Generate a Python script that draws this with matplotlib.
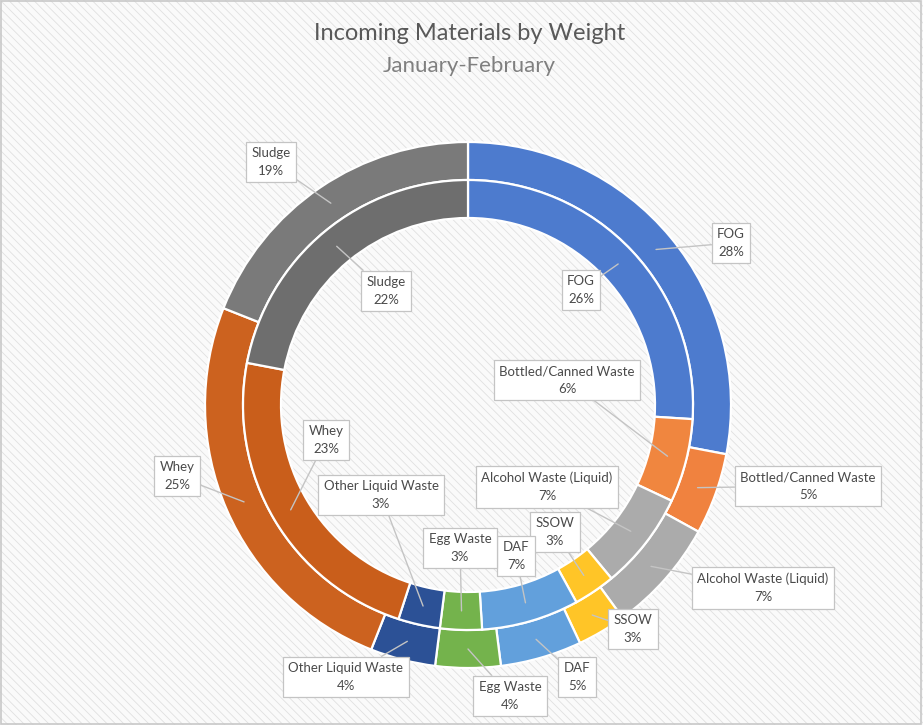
import numpy as np
import matplotlib
matplotlib.use('Agg')
import matplotlib.pyplot as plt
from matplotlib.patches import Rectangle

plt.rcParams['font.family'] = ['Lato', 'DejaVu Sans']
plt.rcParams['hatch.linewidth'] = 0.6

W, H = 923, 725

categories = ['FOG', 'Bottled/Canned Waste', 'Alcohol Waste (Liquid)', 'SSOW', 'DAF',
              'Egg Waste', 'Other Liquid Waste', 'Whey', 'Sludge']
outer_pct = [28, 5, 7, 3, 5, 4, 4, 25, 19]
inner_pct = [26, 6, 7, 3, 7, 3, 3, 23, 22]

colors_outer = ['#4D7BCE', '#F0823F', '#ABABAB', '#FFC527', '#62A0DC',
                '#74B34C', '#2C5196', '#CC621F', '#7A7A7A']
colors_inner = ['#4D7BCE', '#F0863F', '#ABABAB', '#FFC527', '#62A0DC',
                '#74B34C', '#2C5196', '#C95E1B', '#6E6E6E']

# label box centres (pixels from top-left), layout only
outer_lbl = [(731, 243), (808, 486), (763, 588), (633, 629), (577, 677),
             (510, 696), (346, 677), (177, 476), (271, 162)]
inner_lbl = [(581, 290), (567, 380), (547, 487), (555, 532), (516, 556),
             (460, 548), (381, 495), (326, 440), (386, 291)]

cx, cy = 468, H - 405
R_out, R_in, ring = 263, 225, 38

fig = plt.figure(figsize=(W / 100, H / 100), dpi=100)
fig.patch.set_facecolor('white')
fig.patches.append(Rectangle((0, 0), 1, 1, transform=fig.transFigure,
                             facecolor='#FAFAFA', edgecolor='#E0E0E0',
                             hatch='\\\\\\\\', linewidth=0, zorder=-2))
fig.patches.append(Rectangle((0.001, 0.001), 0.997, 0.997, transform=fig.transFigure,
                             facecolor='none', edgecolor='#C8C8C8', linewidth=1.2, zorder=-1))

ax = fig.add_axes([0, 0, 1, 1])
ax.set_facecolor('none')

wprops = dict(width=ring, edgecolor='white', linewidth=1.6)
w_out, _ = ax.pie(outer_pct, radius=R_out, center=(cx, cy), startangle=90,
                  counterclock=False, colors=colors_outer, wedgeprops=wprops)
w_in, _ = ax.pie(inner_pct, radius=R_in, center=(cx, cy), startangle=90,
                 counterclock=False, colors=colors_inner, wedgeprops=wprops)

ax.set_xlim(0, W)
ax.set_ylim(0, H)
ax.set_aspect('equal')
ax.axis('off')


def label(wedges, pcts, positions, r_mid):
    for w, name, p, (lx, ly) in zip(wedges, categories, pcts, positions):
        ang = np.deg2rad((w.theta1 + w.theta2) / 2)
        px, py = cx + r_mid * np.cos(ang), cy + r_mid * np.sin(ang)
        ax.annotate(f'{name}\n{p}%', xy=(px, py), xytext=(lx, H - ly),
                    ha='center', va='center', fontsize=9.5, color='#4A4A4A',
                    linespacing=1.6,
                    bbox=dict(boxstyle='square,pad=0.4', fc='white', ec='#C4C4C4', lw=0.9),
                    arrowprops=dict(arrowstyle='-', color='#C4C4C4', lw=1.0,
                                    shrinkA=0, shrinkB=0))


label(w_out, outer_pct, outer_lbl, R_out - ring / 2)
label(w_in, inner_pct, inner_lbl, R_in - ring / 2)

fig.text(470 / W, 1 - 34 / H, 'Incoming Materials by Weight', ha='center', va='center',
         fontsize=17, color='#595959')
fig.text(469 / W, 1 - 66 / H, 'January-February', ha='center', va='center',
         fontsize=16, color='#7F7F7F')

fig.savefig('out.png', dpi=100)
